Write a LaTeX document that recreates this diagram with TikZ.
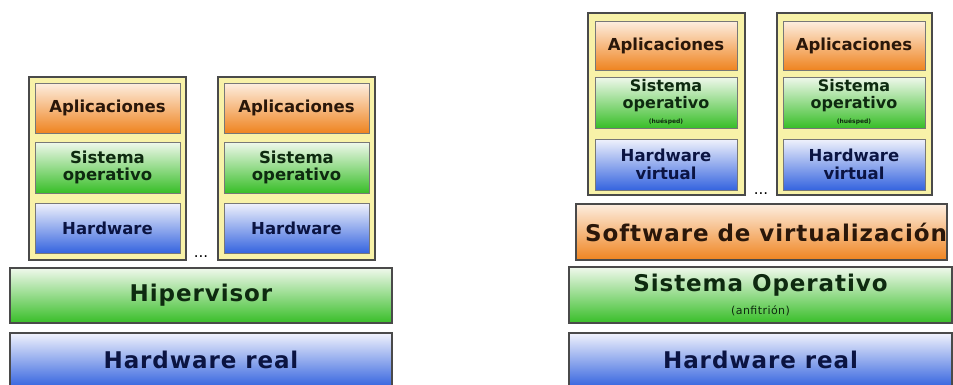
\documentclass[tikz,border=0pt]{standalone}
\usepackage{fontspec}
\setmainfont{DejaVu Sans}
\newfontfamily\barfont[LetterSpace=4]{DejaVu Sans}

% layer colours (light top, saturated bottom)
\definecolor{orgT}{HTML}{FDEEE0}
\definecolor{orgB}{HTML}{EF8420}
\definecolor{grnT}{HTML}{F0F8EC}
\definecolor{grnB}{HTML}{38BE28}
\definecolor{bluT}{HTML}{F0F2FC}
\definecolor{bluB}{HTML}{3564DF}
\definecolor{vmfill}{HTML}{F8F2A8}
\definecolor{edge}{HTML}{4A4A4A}
\definecolor{txtO}{HTML}{2A170A}
\definecolor{txtG}{HTML}{0E2A10}
\definecolor{txtB}{HTML}{0B1442}

\tikzset{
  vmbox/.style={draw=edge, line width=1.6pt, fill=vmfill, inner sep=0pt},
  layer/.style={draw=edge!75, line width=1pt, inner sep=0pt, align=center,
                minimum width=145pt,
                font=\bfseries\fontsize{16.5}{17.5}\selectfont},
  applayer/.style={layer, top color=orgT, bottom color=orgB, text=txtO},
  oslayer/.style={layer, top color=grnT, bottom color=grnB, text=txtG},
  hwlayer/.style={layer, top color=bluT, bottom color=bluB, text=txtB},
  bar/.style={draw=edge, line width=1.5pt, inner sep=0pt, align=center,
              font=\barfont\bfseries\fontsize{23}{23}\selectfont},
  greenbar/.style={bar, top color=grnT, bottom color=grnB, text=txtG},
  bluebar/.style={bar, top color=bluT, bottom color=bluB, text=txtB},
  orangebar/.style={bar, top color=orgT, bottom color=orgB, text=txtO},
  ellip/.style={anchor=base, inner sep=0pt, font=\fontsize{15}{15}\selectfont}
}

\begin{document}
\begin{tikzpicture}[x=1pt, y=-1pt]
\clip (0,0) rectangle (953,384);
\fill[white] (0,0) rectangle (953,384);

% ---------------- hypervisor stack ----------------
\node[vmbox, minimum width=157pt, minimum height=183pt] (lvm1) at (107.5,168.5) {};
\node[vmbox, minimum width=157pt, minimum height=183pt] (lvm2) at (296.5,168.5) {};

\node[applayer, minimum height=50pt] (lapp1) at (107.5,108) {Aplicaciones};
\node[oslayer,  minimum height=51pt] (los1)  at (107.5,167.5) {Sistema\\operativo};
\node[hwlayer,  minimum height=50pt] (lhw1)  at (107.5,228) {Hardware};

\node[applayer, minimum height=50pt] (lapp2) at (296.5,108) {Aplicaciones};
\node[oslayer,  minimum height=51pt] (los2)  at (296.5,167.5) {Sistema\\operativo};
\node[hwlayer,  minimum height=50pt] (lhw2)  at (296.5,228) {Hardware};

\node[ellip] (ldots) at (201,257) {...};

\node[greenbar, minimum width=382pt, minimum height=55pt] (hyp) at (201,295.5) {Hipervisor};
\node[bluebar,  minimum width=382pt, minimum height=54pt] (lhwr) at (201,360) {Hardware real};

% ---------------- hosted stack ----------------
\node[vmbox, minimum width=157pt, minimum height=182pt] (rvm1) at (666.5,104) {};
\node[vmbox, minimum width=155pt, minimum height=182pt] (rvm2) at (854.5,104) {};

\node[applayer, minimum width=142pt, minimum height=49pt] (rapp1) at (666,45.5) {Aplicaciones};
\node[oslayer,  minimum width=142pt, minimum height=51pt, font=\bfseries\fontsize{16}{16.5}\selectfont] (ros1) at (666,102.5)
  {Sistema\\operativo\\[-1pt]{\fontsize{6}{6}\selectfont (huésped)}};
\node[hwlayer,  minimum width=142pt, minimum height=51pt] (rhw1)  at (666,164.5) {Hardware\\virtual};

\node[applayer, minimum width=142pt, minimum height=49pt] (rapp2) at (854,45.5) {Aplicaciones};
\node[oslayer,  minimum width=142pt, minimum height=51pt, font=\bfseries\fontsize{16}{16.5}\selectfont] (ros2) at (854,102.5)
  {Sistema\\operativo\\[-1pt]{\fontsize{6}{6}\selectfont (huésped)}};
\node[hwlayer,  minimum width=142pt, minimum height=51pt] (rhw2)  at (854,164.5) {Hardware\\virtual};

\node[ellip] (rdots) at (761,194) {...};

\node[orangebar, minimum width=371pt, minimum height=56pt] (virt) at (761.5,232)
  {\makebox[0pt]{\kern9pt Software de virtualización}};
\node[greenbar, minimum width=383pt, minimum height=56pt] (host) at (760.5,295)
  {Sistema Operativo\\[0pt]{\mdseries\fontsize{11}{11}\selectfont (anfitrión)}};
\node[bluebar,  minimum width=383pt, minimum height=54pt] (rhwr) at (760.5,360) {Hardware real};
\end{tikzpicture}
\end{document}
